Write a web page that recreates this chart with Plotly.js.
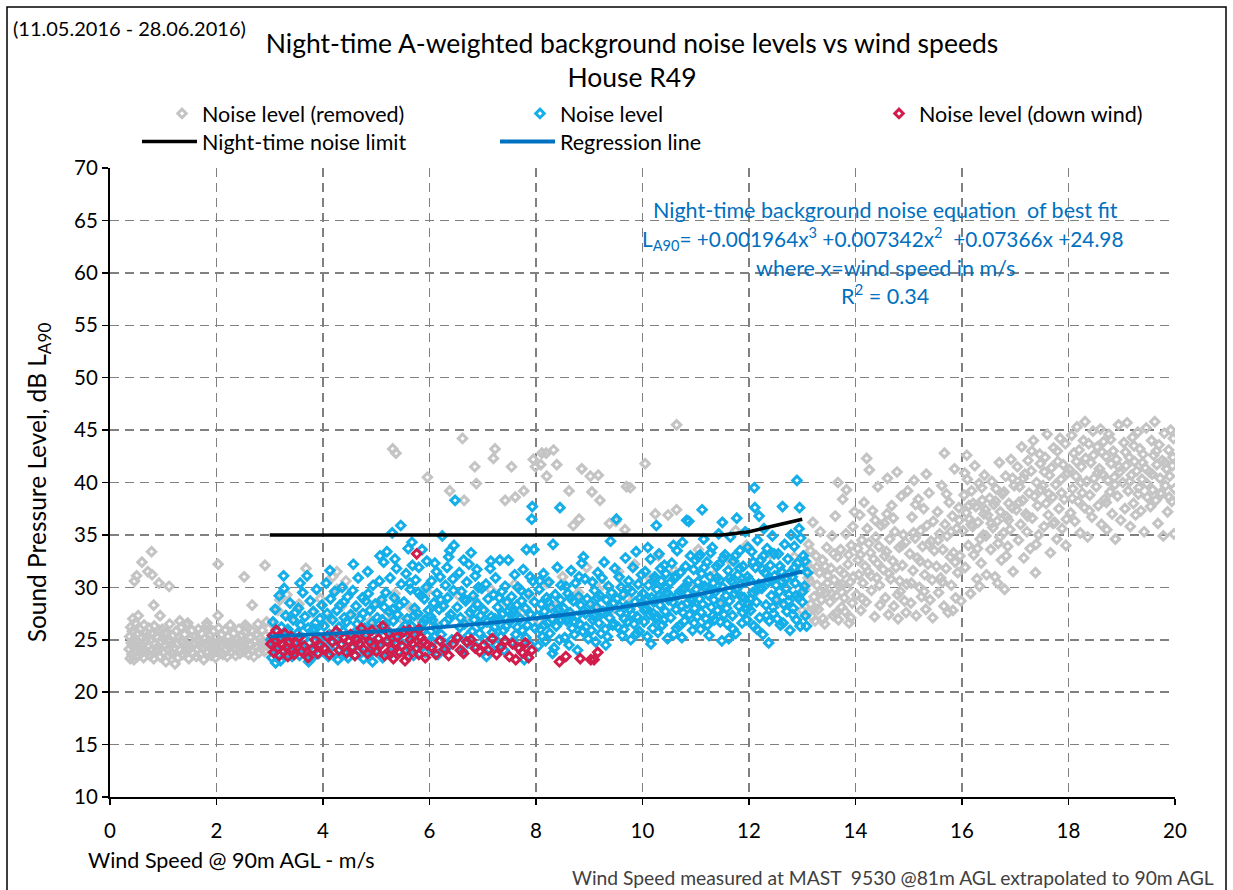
<!DOCTYPE html>
<html>
<head>
<meta charset="utf-8">
<script src="https://cdn.plot.ly/plotly-3.0.1.min.js"></script>
<style>
  html, body { margin: 0; padding: 0; background: #ffffff; }
  #chart { width: 1233px; height: 890px; }
</style>
</head>
<body>
<div id="chart"></div>
<script>
// Night-time LA90 background noise vs wind speed, House R49.
// Each point is [wind speed m/s, LA90 dB].

// Removed samples, low wind speeds (0.3 - 3 m/s)
const removedLow = [
  [0.36,24.1],[0.37,25.3],[0.38,23.2],[0.39,26.2],[0.40,24.7],[0.41,23.6],[0.42,25.8],[0.43,27.0],[0.44,24.3],[0.45,23.1],
  [0.46,25.1],[0.47,26.6],[0.48,23.9],[0.50,24.8],[0.51,23.4],[0.52,25.6],[0.53,27.3],[0.55,24.2],[0.56,26.0],[0.58,23.7],
  [0.60,25.2],[0.61,24.5],[0.63,23.3],[0.64,26.4],[0.66,24.9],[0.68,25.7],[0.69,23.8],[0.71,24.4],[0.73,26.1],[0.75,23.5],
  [0.76,25.0],[0.78,24.0],[0.80,25.5],[0.82,23.2],[0.83,26.3],[0.85,24.6],[0.87,25.3],[0.89,23.9],[0.90,24.3],[0.92,25.9],
  [0.94,23.4],[0.96,24.8],[0.98,26.0],[1.00,23.8],[1.01,25.1],[1.03,24.4],[1.05,22.9],[1.07,25.7],[1.09,24.1],[1.10,23.5],
  [1.12,26.5],[1.14,24.9],[1.16,23.7],[1.18,25.4],[1.20,24.2],[1.22,22.7],[1.24,25.8],[1.26,24.6],[1.28,23.3],[1.30,25.2],
  [1.32,24.0],[1.34,26.2],[1.36,23.6],[1.38,24.8],[1.40,25.5],[1.42,23.9],[1.44,24.4],[1.46,26.6],[1.48,23.2],[1.50,25.0],
  [1.52,24.3],[1.54,25.9],[1.56,23.7],[1.58,24.7],[1.60,25.3],[1.62,23.4],[1.64,24.1],[1.66,26.0],[1.68,24.9],[1.70,23.6],
  [1.72,25.6],[1.74,24.2],[1.76,23.1],[1.78,25.1],[1.80,24.5],[1.82,26.3],[1.84,23.8],[1.86,24.9],[1.88,25.4],[1.90,23.5],
  [1.92,24.3],[1.94,25.8],[1.96,24.0],[1.98,23.3],[2.00,25.2],[2.02,24.6],[2.04,26.1],[2.06,23.9],[2.08,24.4],[2.10,25.5],
  [2.12,23.6],[2.14,24.8],[2.16,25.9],[2.18,24.1],[2.20,23.4],[2.22,25.3],[2.24,24.7],[2.26,26.4],[2.28,23.8],[2.30,24.9],
  [2.32,25.6],[2.34,24.2],[2.36,23.5],[2.38,25.0],[2.40,24.5],[2.42,26.0],[2.44,23.7],[2.46,24.3],[2.48,25.4],[2.50,24.8],
  [2.52,23.9],[2.54,25.7],[2.56,24.1],[2.58,26.2],[2.60,23.6],[2.62,24.6],[2.64,25.2],[2.66,24.0],[2.68,25.8],[2.70,23.4],
  [2.72,24.9],[2.74,25.5],[2.76,24.3],[2.78,26.5],[2.80,23.8],[2.82,25.1],[2.84,24.7],[2.86,25.9],[2.88,24.4],[2.90,23.9],
  [2.92,25.4],[2.94,26.7],[2.96,24.6],[0.45,24.6],[0.62,24.0],[0.70,25.3],[0.88,24.2],[1.04,25.5],[1.15,24.5],[1.33,24.9],
  [1.47,24.1],[1.63,25.0],[1.85,24.4],[2.05,24.9],[2.25,24.3],[2.45,24.8],[2.65,24.5],[2.85,24.2],
  [0.78,33.4],[0.60,32.4],[0.50,31.1],[0.46,30.6],[0.71,31.5],[0.79,31.2],[0.92,30.4],[1.11,30.1],[0.82,28.3],[0.94,27.3],
  [2.03,32.2],[2.52,31.0],[2.91,32.1],[2.67,28.3],[2.03,27.3],[1.31,26.8],[1.44,26.4],[1.82,26.6],[2.54,26.4]
];

// Removed samples, 3 - 13 m/s
const removedMid = [
  [3.19,28.8],[3.32,29.3],[3.68,31.8],[4.18,31.0],[4.26,31.5],[4.26,29.8],[4.43,30.6],[5.31,43.2],[5.37,42.8],[5.96,40.5],
  [6.62,44.2],[7.23,43.2],[7.20,42.3],[6.85,41.5],[6.88,39.9],[7.54,41.5],[6.38,39.2],[6.65,38.3],[7.42,38.3],[7.61,38.6],
  [7.77,39.2],[7.95,42.2],[8.11,42.8],[8.33,43.1],[7.99,41.5],[8.39,41.7],[8.20,40.6],[8.86,41.3],[9.02,40.6],[9.17,40.7],
  [8.62,39.2],[9.05,39.1],[9.20,38.3],[9.70,39.6],[9.77,39.5],[10.05,41.8],[10.64,45.5],[8.70,35.9],[8.81,36.5],[9.38,36.1],
  [9.50,36.3],[9.67,35.5],[10.24,37.0],[10.48,36.9],[10.64,37.4],[11.75,35.4],[8.19,42.8],[8.09,41.7],
  [3.05,26.5],[3.15,27.8],[3.40,27.2],[3.55,28.4],[3.80,27.6],[3.95,28.9],[4.10,27.0],[4.35,28.2],[4.60,27.5],[4.75,29.0],
  [4.90,26.8],[5.05,28.6],[5.20,27.3],[5.35,29.4],[5.50,26.9],[5.65,28.0],[5.80,27.1],[5.95,29.6],[6.10,26.6],[6.25,28.3],
  [6.40,27.4],[6.55,29.2],[6.70,26.7],[6.85,28.8],[7.00,27.9],[7.15,29.8],[7.30,27.0],[7.45,28.5],[7.60,30.3],[7.75,27.6],
  [7.90,29.1],[8.05,26.8],[8.20,30.4],[8.35,28.1],[8.50,31.0],[8.65,27.4],[8.80,29.5],[8.95,31.9],[9.10,28.3],[9.25,30.2],
  [9.40,27.7],[9.55,31.5],[9.70,29.0],[9.85,32.2],[10.00,28.6],[10.15,30.8],[10.30,33.0],[10.45,29.3],[10.60,31.6],[10.75,28.2],
  [10.90,30.1],[11.05,33.6],[11.20,29.7],[11.35,31.2],[11.50,28.8],[11.65,32.5],[11.80,30.3],[11.95,34.0],[12.10,29.4],[12.25,31.8],
  [12.40,33.2],[12.55,28.5],[12.70,30.7],[12.85,32.9],[13.00,27.8]
];

// Removed samples, high wind speeds (13 - 20 m/s)
const removedHigh = [
  [13.05,29.8],[13.08,32.4],[13.10,27.6],[13.12,34.1],[13.14,30.6],[13.16,28.4],[13.18,31.7],[13.20,36.2],[13.22,29.1],[13.24,26.8],
  [13.26,33.0],[13.28,30.2],[13.30,27.9],[13.32,31.4],[13.34,35.3],[13.36,28.8],[13.38,32.6],[13.40,30.0],[13.42,26.5],[13.44,29.5],
  [13.46,33.8],[13.48,31.1],[13.11,30.9],[13.19,27.2],[13.27,31.9],[13.35,29.6],[13.43,32.0],[13.15,33.5],[13.23,28.0],[13.39,27.0],
  [13.47,30.4],
  [13.52,28.6],[13.54,31.8],[13.56,34.9],[13.58,27.3],[13.60,30.7],[13.62,36.8],[13.64,29.2],[13.66,32.9],[13.68,26.9],[13.70,30.1],
  [13.72,33.6],[13.74,28.1],[13.76,38.4],[13.78,31.3],[13.80,27.7],[13.82,35.1],[13.84,29.9],[13.86,32.2],[13.88,26.6],[13.90,30.5],
  [13.92,34.0],[13.94,28.5],[13.96,31.0],[13.98,37.2],[13.55,29.4],[13.63,27.5],[13.71,31.6],[13.79,29.0],[13.87,33.1],[13.95,35.8],
  [13.67,40.0],[13.83,39.3],[13.59,33.2],[13.75,30.3],[13.91,27.1],
  [14.02,29.3],[14.04,33.7],[14.06,31.2],[14.08,36.9],[14.10,27.8],[14.12,34.5],[14.14,30.4],[14.16,38.1],[14.18,32.0],[14.20,28.6],
  [14.22,35.6],[14.24,31.5],[14.26,41.2],[14.28,33.3],[14.30,29.7],[14.32,37.3],[14.34,32.7],[14.36,27.2],[14.38,34.8],[14.40,30.9],
  [14.42,39.6],[14.44,33.9],[14.46,28.3],[14.48,35.9],[14.05,32.6],[14.13,28.9],[14.21,42.3],[14.29,31.1],[14.37,36.4],[14.45,30.2],
  [14.09,33.1],[14.25,34.2],[14.41,32.3],
  [14.52,31.7],[14.54,36.1],[14.56,29.0],[14.58,33.4],[14.60,40.4],[14.62,27.4],[14.64,34.6],[14.66,30.8],[14.68,37.8],[14.70,32.5],
  [14.72,28.2],[14.74,35.3],[14.76,31.9],[14.78,41.0],[14.80,27.0],[14.82,33.8],[14.84,29.6],[14.86,38.7],[14.88,32.1],[14.90,35.0],
  [14.92,28.7],[14.94,34.3],[14.96,30.3],[14.98,39.2],[14.55,33.0],[14.63,31.3],[14.71,36.6],[14.79,29.3],[14.87,34.0],[14.95,27.6],
  [14.59,37.0],[14.83,30.6],
  [15.02,33.2],[15.04,28.5],[15.06,36.7],[15.08,31.6],[15.10,40.2],[15.12,34.7],[15.14,27.3],[15.16,32.8],[15.18,38.4],[15.20,30.0],
  [15.22,35.4],[15.24,29.1],[15.26,33.9],[15.28,37.5],[15.30,31.2],[15.32,27.9],[15.34,35.9],[15.36,32.2],[15.38,39.0],[15.40,28.8],
  [15.42,34.4],[15.44,30.7],[15.46,36.3],[15.48,33.5],[15.05,30.4],[15.13,37.9],[15.21,32.5],[15.29,29.6],[15.37,34.1],[15.45,27.1],
  [15.09,35.2],[15.33,40.8],
  [15.52,32.0],[15.54,37.2],[15.56,29.5],[15.58,35.1],[15.60,30.9],[15.62,39.7],[15.64,33.6],[15.66,28.2],[15.68,36.0],[15.70,31.8],
  [15.72,34.9],[15.74,27.6],[15.76,38.1],[15.78,32.9],[15.80,30.2],[15.82,36.8],[15.84,33.3],[15.86,41.3],[15.88,29.0],[15.90,35.6],
  [15.92,31.4],[15.94,37.6],[15.96,33.0],[15.98,28.7],[15.55,34.5],[15.63,30.5],[15.71,38.9],[15.79,35.3],[15.87,32.4],[15.95,36.4],
  [15.67,42.8],[15.83,27.8],
  [16.02,35.4],[16.04,38.8],[16.06,31.9],[16.08,37.1],[16.10,40.3],[16.12,34.0],[16.14,36.5],[16.16,29.4],[16.18,39.2],[16.20,35.8],
  [16.22,33.1],[16.24,41.6],[16.26,37.7],[16.28,30.8],[16.30,36.2],[16.32,39.9],[16.34,34.6],[16.36,32.3],[16.38,38.3],[16.40,35.0],
  [16.42,40.7],[16.44,37.4],[16.46,31.2],[16.48,36.9],[16.05,40.9],[16.13,37.8],[16.21,38.0],[16.29,33.7],[16.37,39.5],[16.45,34.9],
  [16.09,42.6],[16.33,30.1],[16.41,37.0],[16.17,36.0],
  [16.52,38.5],[16.54,33.6],[16.56,40.1],[16.58,35.7],[16.60,37.9],[16.62,31.0],[16.64,39.4],[16.66,36.3],[16.68,34.2],[16.70,41.9],
  [16.72,37.2],[16.74,32.6],[16.76,38.9],[16.78,35.2],[16.80,29.8],[16.82,40.6],[16.84,36.7],[16.86,33.9],[16.88,38.0],[16.90,35.5],
  [16.92,42.2],[16.94,37.6],[16.96,31.5],[16.98,39.7],[16.55,36.1],[16.63,38.2],[16.71,34.8],[16.79,39.1],[16.87,36.4],[16.95,40.4],
  [16.67,30.4],[16.83,33.0],
  [17.02,37.4],[17.04,41.5],[17.06,34.5],[17.08,39.6],[17.10,36.0],[17.12,43.4],[17.14,38.3],[17.16,32.8],[17.18,40.8],[17.20,37.0],
  [17.22,35.3],[17.24,42.1],[17.26,39.0],[17.28,33.7],[17.30,41.1],[17.32,36.6],[17.34,44.0],[17.36,38.7],[17.38,31.4],[17.40,40.0],
  [17.42,37.8],[17.44,35.0],[17.46,42.7],[17.48,39.3],[17.07,38.1],[17.15,40.4],[17.23,36.8],[17.31,43.0],[17.39,34.1],[17.47,41.8],
  [17.52,39.7],[17.54,35.8],[17.56,42.4],[17.58,38.0],[17.60,44.6],[17.62,36.9],[17.64,40.7],[17.66,33.3],[17.68,41.4],[17.70,38.6],
  [17.72,43.3],[17.74,36.2],[17.76,39.8],[17.78,34.6],[17.80,42.0],[17.82,37.5],[17.84,44.2],[17.86,40.3],[17.88,35.6],[17.90,41.7],
  [17.92,38.4],[17.94,43.7],[17.96,36.5],[17.98,40.9],[17.55,41.0],[17.63,38.9],[17.71,36.1],[17.79,43.0],[17.87,39.0],[17.95,34.0],
  [18.02,41.2],[18.04,37.1],[18.06,44.5],[18.08,39.4],[18.10,42.8],[18.12,36.3],[18.14,40.6],[18.16,45.3],[18.18,38.2],[18.20,43.1],
  [18.22,35.2],[18.24,41.5],[18.26,39.0],[18.28,44.0],[18.30,37.6],[18.32,42.3],[18.34,40.1],[18.36,34.8],[18.38,43.7],[18.40,38.8],
  [18.42,41.9],[18.44,36.7],[18.46,44.9],[18.48,40.4],[18.07,38.5],[18.15,42.0],[18.23,40.0],[18.31,45.8],[18.39,37.3],[18.47,42.6],
  [18.52,39.6],[18.54,43.4],[18.56,37.8],[18.58,41.3],[18.60,45.1],[18.62,36.0],[18.64,40.8],[18.66,43.9],[18.68,38.4],[18.70,42.5],
  [18.72,35.5],[18.74,40.2],[18.76,44.6],[18.78,39.1],[18.80,41.8],[18.82,37.0],[18.84,43.0],[18.86,40.5],[18.88,34.6],[18.90,42.2],
  [18.92,38.7],[18.94,45.5],[18.96,41.0],[18.98,36.4],[18.55,40.9],[18.63,42.9],[18.71,38.1],[18.79,44.1],[18.87,39.8],[18.95,41.5],
  [19.02,40.0],[19.04,43.8],[19.06,37.5],[19.08,41.6],[19.10,45.7],[19.12,39.2],[19.14,42.4],[19.16,35.8],[19.18,40.7],[19.20,44.3],
  [19.22,38.0],[19.24,42.0],[19.26,36.9],[19.28,41.1],[19.30,44.8],[19.32,39.5],[19.34,43.2],[19.36,37.3],[19.38,40.3],[19.40,42.7],
  [19.42,35.3],[19.44,41.4],[19.46,45.2],[19.48,38.6],[19.07,42.9],[19.15,40.1],[19.23,43.5],[19.31,38.9],[19.39,41.9],[19.47,39.9],
  [19.52,41.0],[19.54,37.7],[19.56,44.0],[19.58,39.3],[19.60,42.6],[19.62,45.8],[19.64,38.3],[19.66,41.7],[19.68,36.1],[19.70,43.6],
  [19.72,40.4],[19.74,38.9],[19.76,42.1],[19.78,34.9],[19.80,44.7],[19.82,39.7],[19.84,41.3],[19.86,37.2],[19.88,43.1],[19.90,40.6],
  [19.92,45.0],[19.94,38.2],[19.96,42.4],[19.98,35.1],[19.57,40.8],[19.65,43.0],[19.73,39.0],[19.81,41.9],[19.89,38.6],[19.97,44.2],
  [19.99,39.4],[19.95,41.6]
];

// Retained samples (3 - 13 m/s)
const noiseLevel = [
  [3.02,25.0],[3.04,23.3],[3.06,26.7],[3.08,24.4],[3.10,27.9],[3.12,23.9],[3.14,25.8],[3.16,24.9],[3.18,29.2],[3.20,23.0],
  [3.22,26.2],[3.24,24.6],[3.26,31.1],[3.28,25.4],[3.30,27.3],[3.32,23.6],[3.34,26.0],[3.36,24.1],[3.38,28.5],[3.40,25.2],
  [3.42,23.4],[3.44,26.9],[3.46,24.8],[3.48,27.6],[3.11,22.8],[3.27,29.9],[3.35,25.7],[3.45,23.8],
  [3.52,25.6],[3.54,28.0],[3.56,23.5],[3.58,26.4],[3.60,24.3],[3.62,29.5],[3.64,25.1],[3.66,27.2],[3.68,23.9],[3.70,31.1],
  [3.72,26.1],[3.74,24.7],[3.76,28.7],[3.78,23.2],[3.80,25.9],[3.82,27.7],[3.84,24.0],[3.86,26.6],[3.88,29.8],[3.90,25.3],
  [3.92,23.7],[3.94,27.0],[3.96,24.5],[3.98,28.3],[3.57,30.4],[3.73,22.9],[3.85,26.0],[3.95,25.0],
  [4.02,26.3],[4.04,24.2],[4.06,30.4],[4.08,27.5],[4.10,23.4],[4.12,25.5],[4.14,28.9],[4.16,24.8],[4.18,26.9],[4.20,23.8],
  [4.22,29.6],[4.24,25.2],[4.26,27.8],[4.28,23.1],[4.30,26.2],[4.32,28.3],[4.34,24.5],[4.36,30.0],[4.38,25.8],[4.40,27.1],
  [4.42,23.6],[4.44,26.7],[4.46,29.1],[4.48,24.9],[4.13,31.6],[4.27,25.0],[4.39,28.6],[4.47,23.3],
  [4.52,27.4],[4.54,24.3],[4.56,29.7],[4.58,25.6],[4.60,23.5],[4.62,28.2],[4.64,26.5],[4.66,30.9],[4.68,24.0],[4.70,27.0],
  [4.72,25.3],[4.74,29.0],[4.76,23.2],[4.78,26.1],[4.80,28.7],[4.82,24.6],[4.84,31.5],[4.86,25.9],[4.88,27.8],[4.90,23.8],
  [4.92,26.6],[4.94,30.2],[4.96,24.8],[4.98,28.4],[4.57,32.2],[4.65,25.0],[4.75,27.5],[4.85,29.4],[4.93,22.9],[4.99,26.0],
  [5.02,27.1],[5.04,24.4],[5.06,30.6],[5.08,25.9],[5.10,28.8],[5.12,23.3],[5.14,32.4],[5.16,26.4],[5.18,29.5],[5.20,33.4],
  [5.22,24.9],[5.24,27.7],[5.26,30.9],[5.28,23.7],[5.30,35.2],[5.32,26.8],[5.34,29.0],[5.36,25.2],[5.38,31.8],[5.40,27.4],
  [5.42,23.9],[5.44,28.3],[5.46,35.9],[5.48,26.0],[5.07,33.0],[5.15,28.1],[5.23,25.8],[5.31,27.9],[5.39,24.6],[5.47,30.3],
  [5.11,26.9],[5.35,32.7],
  [5.52,28.6],[5.54,25.1],[5.56,31.3],[5.58,27.0],[5.60,33.7],[5.62,24.2],[5.64,29.8],[5.66,26.3],[5.68,32.1],[5.70,23.5],
  [5.72,28.0],[5.74,30.7],[5.76,25.7],[5.78,27.5],[5.80,31.9],[5.82,24.5],[5.84,29.2],[5.86,33.6],[5.88,26.6],[5.90,28.9],
  [5.92,23.8],[5.94,30.0],[5.96,25.4],[5.98,27.8],[5.55,26.4],[5.63,30.4],[5.71,27.3],[5.79,29.5],[5.87,25.9],[5.95,32.5],
  [5.67,34.3],[5.91,26.9],
  [6.02,27.2],[6.04,30.6],[6.06,24.8],[6.08,28.5],[6.10,32.3],[6.12,26.1],[6.14,29.4],[6.16,23.6],[6.18,27.9],[6.20,31.0],
  [6.22,25.5],[6.24,34.9],[6.26,28.2],[6.28,26.6],[6.30,30.2],[6.32,24.2],[6.34,29.0],[6.36,32.9],[6.38,33.5],[6.40,27.4],
  [6.42,25.0],[6.44,30.8],[6.46,34.0],[6.48,38.3],[6.05,26.9],[6.13,31.5],[6.21,28.8],[6.29,24.6],[6.37,27.0],[6.45,29.7],
  [6.09,25.3],[6.33,31.9],
  [6.52,28.1],[6.54,25.2],[6.56,31.4],[6.58,27.1],[6.60,29.6],[6.62,23.9],[6.64,32.6],[6.66,26.5],[6.68,28.7],[6.70,30.5],
  [6.72,24.7],[6.74,32.2],[6.76,27.6],[6.78,33.3],[6.80,25.8],[6.82,29.2],[6.84,26.9],[6.86,31.1],[6.88,24.3],[6.90,28.4],
  [6.92,30.0],[6.94,25.6],[6.96,27.3],[6.98,29.9],[6.57,26.2],[6.65,28.9],[6.73,25.4],[6.81,27.9],[6.89,31.7],[6.97,26.4],
  [7.02,27.8],[7.04,25.0],[7.06,30.3],[7.08,26.7],[7.10,28.9],[7.12,24.1],[7.14,31.8],[7.16,27.2],[7.18,25.7],[7.20,29.3],
  [7.22,26.2],[7.24,30.9],[7.26,24.5],[7.28,28.1],[7.30,26.9],[7.32,32.6],[7.34,25.3],[7.36,29.6],[7.38,27.5],[7.40,24.0],
  [7.42,30.1],[7.44,26.3],[7.46,28.6],[7.48,32.6],[7.07,23.4],[7.15,32.5],[7.23,27.0],[7.31,29.0],[7.39,25.9],[7.47,27.7],
  [7.52,26.8],[7.54,29.1],[7.56,24.8],[7.58,27.6],[7.60,31.2],[7.62,25.5],[7.64,28.3],[7.66,30.0],[7.68,24.2],[7.70,27.0],
  [7.72,29.7],[7.74,25.9],[7.76,31.7],[7.78,23.1],[7.80,28.0],[7.82,33.6],[7.84,26.4],[7.86,29.4],[7.88,24.6],[7.90,27.4],
  [7.92,36.5],[7.94,30.6],[7.96,33.6],[7.98,26.1],[7.93,37.7],[7.57,27.9],[7.65,26.2],[7.73,28.7],[7.81,25.2],[7.89,31.0],
  [7.97,28.6],
  [8.02,27.3],[8.04,24.4],[8.06,29.8],[8.08,26.0],[8.10,28.4],[8.12,25.3],[8.14,31.3],[8.16,27.7],[8.18,24.9],[8.20,29.0],
  [8.22,26.6],[8.24,30.5],[8.26,25.6],[8.28,28.1],[8.30,27.0],[8.32,34.1],[8.34,24.2],[8.36,29.3],[8.38,26.3],[8.40,31.9],
  [8.42,27.9],[8.44,25.0],[8.45,37.6],[8.46,28.8],[8.48,26.9],[8.07,30.6],[8.15,26.4],[8.23,28.6],[8.31,23.7],[8.39,27.4],
  [8.47,30.2],
  [8.52,28.0],[8.54,25.2],[8.56,30.1],[8.58,26.8],[8.60,29.4],[8.62,24.5],[8.64,27.6],[8.66,31.6],[8.68,26.1],[8.70,28.7],
  [8.72,25.5],[8.74,30.4],[8.76,27.2],[8.78,24.0],[8.80,29.1],[8.82,26.5],[8.84,28.3],[8.86,32.3],[8.88,25.8],[8.89,32.9],
  [8.90,27.8],[8.92,30.8],[8.94,26.2],[8.96,28.9],[8.98,25.1],[8.57,27.0],[8.65,29.0],[8.73,26.7],[8.81,31.0],[8.93,27.5],
  [9.02,28.4],[9.04,25.9],[9.06,30.5],[9.08,27.3],[9.10,29.7],[9.12,24.8],[9.14,28.1],[9.16,31.4],[9.18,26.6],[9.20,29.2],
  [9.22,25.6],[9.24,30.9],[9.26,27.7],[9.28,32.4],[9.30,26.0],[9.32,28.8],[9.34,25.3],[9.36,30.1],[9.38,27.1],[9.40,34.4],
  [9.42,29.5],[9.44,26.4],[9.46,28.5],[9.48,31.8],[9.07,26.9],[9.15,29.0],[9.23,27.5],[9.31,24.5],[9.39,28.0],[9.47,26.5],
  [9.51,36.5],[9.52,28.9],[9.54,26.2],[9.56,31.0],[9.58,27.6],[9.60,30.0],[9.62,25.4],[9.64,29.3],[9.66,27.0],[9.68,32.8],
  [9.70,28.2],[9.72,26.7],[9.74,30.6],[9.76,27.9],[9.78,25.0],[9.80,29.6],[9.82,31.9],[9.84,26.5],[9.86,28.6],[9.88,33.4],
  [9.90,27.2],[9.92,30.3],[9.94,25.8],[9.96,29.0],[9.98,31.2],[9.57,28.2],[9.65,26.0],[9.73,29.9],[9.81,27.4],[9.89,25.6],
  [9.97,28.4],
  [10.01,29.4],[10.03,26.7],[10.05,31.5],[10.07,28.0],[10.09,25.3],[10.11,30.2],[10.13,27.4],[10.15,32.7],[10.17,29.0],[10.19,26.1],
  [10.21,28.6],[10.23,31.0],[10.25,27.0],[10.26,35.9],[10.27,29.8],[10.29,25.7],[10.31,33.2],[10.33,28.3],[10.35,30.6],[10.37,26.4],
  [10.39,29.1],[10.41,32.1],[10.43,27.7],[10.45,30.0],[10.47,25.1],[10.49,28.8],[10.04,27.8],[10.10,33.8],[10.16,24.6],[10.22,30.7],
  [10.28,27.2],[10.34,31.8],[10.40,26.9],[10.46,29.5],[10.08,28.9],[10.20,27.5],[10.32,29.2],[10.44,31.3],
  [10.51,30.4],[10.53,27.1],[10.55,32.3],[10.57,28.6],[10.59,25.5],[10.61,30.9],[10.63,27.9],[10.65,33.5],[10.67,29.3],[10.69,26.3],
  [10.71,31.4],[10.73,28.2],[10.75,34.3],[10.77,29.9],[10.79,26.8],[10.81,32.0],[10.83,36.4],[10.84,28.5],[10.86,30.6],[10.88,27.4],
  [10.90,33.0],[10.92,29.0],[10.94,25.9],[10.96,31.7],[10.98,28.0],[10.52,29.1],[10.58,34.0],[10.64,26.1],[10.70,29.6],[10.76,27.6],
  [10.82,30.2],[10.87,36.3],[10.93,28.7],[10.99,32.6],[10.62,31.1],[10.74,25.2],[10.85,29.4],[10.97,26.6],
  [11.01,29.8],[11.03,27.2],[11.05,32.9],[11.07,28.9],[11.09,26.0],[11.11,31.3],[11.12,37.4],[11.13,28.4],[11.15,34.6],[11.17,30.1],
  [11.19,27.0],[11.21,32.4],[11.23,29.3],[11.25,25.4],[11.27,31.0],[11.29,28.1],[11.31,33.8],[11.33,30.4],[11.35,26.9],[11.37,29.6],
  [11.39,32.0],[11.41,27.8],[11.43,35.1],[11.45,30.7],[11.47,28.5],[11.49,24.9],[11.04,30.5],[11.10,27.6],[11.16,31.9],[11.22,26.4],
  [11.28,33.3],[11.34,28.8],[11.40,30.9],[11.46,26.7],[11.08,33.1],[11.20,29.9],[11.32,27.3],[11.44,32.2],[11.50,36.2],
  [11.51,30.0],[11.53,27.4],[11.55,33.1],[11.57,29.2],[11.59,26.5],[11.61,31.6],[11.63,28.7],[11.65,34.8],[11.67,30.6],[11.69,27.3],
  [11.71,32.5],[11.73,29.4],[11.75,25.6],[11.77,36.6],[11.79,31.2],[11.81,28.2],[11.83,33.5],[11.85,30.3],[11.87,26.6],[11.89,32.0],
  [11.91,29.0],[11.93,35.3],[11.95,27.9],[11.97,31.0],[11.99,28.4],[11.52,32.8],[11.58,28.0],[11.64,30.9],[11.70,26.0],[11.76,29.8],
  [11.82,31.8],[11.88,27.6],[11.94,30.5],[11.98,33.8],[11.62,25.1],[11.74,33.0],[11.86,29.1],[11.96,26.9],
  [12.01,30.7],[12.03,27.8],[12.05,33.4],[12.07,29.5],[12.09,26.3],[12.10,39.5],[12.11,37.6],[12.12,31.9],[12.14,28.6],[12.16,34.5],
  [12.18,30.3],[12.20,27.1],[12.22,32.6],[12.24,29.9],[12.26,25.5],[12.28,35.6],[12.30,31.4],[12.32,28.3],[12.34,33.7],[12.36,30.5],
  [12.38,26.8],[12.40,32.1],[12.42,29.2],[12.44,34.9],[12.46,27.5],[12.48,31.1],[12.02,28.9],[12.08,32.4],[12.15,26.0],[12.21,30.0],
  [12.27,33.0],[12.33,27.3],[12.39,30.8],[12.45,28.1],[12.13,29.7],[12.25,31.7],[12.37,24.7],[12.47,33.2],[12.19,36.8],
  [12.51,30.2],[12.53,27.0],[12.55,33.2],[12.57,29.6],[12.59,26.4],[12.61,31.5],[12.63,37.7],[12.65,28.4],[12.67,34.1],[12.69,30.8],
  [12.71,27.7],[12.73,32.7],[12.75,29.3],[12.77,25.9],[12.79,35.0],[12.81,31.0],[12.83,28.0],[12.85,33.9],[12.87,30.4],[12.89,26.9],
  [12.90,40.2],[12.91,32.3],[12.93,29.0],[12.94,35.6],[12.95,37.6],[12.96,26.3],[12.98,31.8],[13.00,28.6],[13.02,33.0],[13.04,30.1],
  [13.06,27.3],[13.08,26.3],[13.10,31.4],[12.52,28.8],[12.58,32.0],[12.64,26.6],[12.70,29.9],[12.76,31.3],[12.82,27.4],[12.88,29.2],
  [12.97,34.7],[13.01,29.6],[13.05,32.5],[12.62,30.6],[12.74,28.7],[12.86,31.9]
];

// Down-wind samples
const downWind = [
  [3.02,24.6],[3.05,25.4],[3.07,23.8],[3.10,24.9],[3.12,25.9],[3.15,24.2],[3.18,23.5],[3.20,25.1],[3.23,24.5],[3.26,23.9],
  [3.28,25.6],[3.31,24.3],[3.34,23.4],[3.37,24.8],[3.40,25.3],[3.43,24.0],[3.46,23.6],[3.50,24.7],[3.55,25.2],[3.60,23.9],
  [3.65,24.4],[3.72,23.3],[3.80,24.1],[3.85,25.0],[3.90,23.7],[3.95,24.5],
  [4.02,24.2],[4.08,25.3],[4.12,23.6],[4.18,24.8],[4.25,25.8],[4.30,24.0],[4.35,24.6],[4.40,25.2],[4.44,23.8],[4.48,24.9],
  [4.52,25.5],[4.56,24.3],[4.60,23.5],[4.64,25.0],[4.68,24.6],[4.72,26.1],[4.76,24.1],[4.80,25.4],[4.84,23.7],[4.88,24.8],
  [4.92,25.9],[4.96,24.4],
  [5.00,23.9],[5.04,25.1],[5.08,24.5],[5.12,26.3],[5.16,23.5],[5.20,24.9],[5.24,25.6],[5.28,24.1],[5.32,23.2],[5.36,24.7],
  [5.40,25.3],[5.44,23.8],[5.48,24.4],[5.52,25.8],[5.56,24.0],[5.60,23.4],[5.64,25.0],[5.68,24.6],[5.72,25.5],[5.76,24.2],
  [5.80,23.6],[5.84,25.2],[5.88,24.8],[5.92,23.3],[5.96,24.5],[5.76,33.2],[5.80,26.0],[5.62,25.9],[5.54,23.0],
  [6.04,24.3],[6.12,23.6],[6.20,24.9],[6.28,24.1],[6.36,23.5],[6.44,24.6],[6.52,25.2],[6.58,24.0],[6.64,23.7],[6.70,24.8],
  [6.78,25.0],[6.86,24.2],[6.94,23.9],
  [7.02,24.5],[7.10,24.0],[7.18,25.1],[7.26,23.6],[7.34,24.3],[7.42,24.9],[7.50,23.4],[7.56,24.6],[7.62,23.1],[7.68,24.2],
  [7.74,23.8],[7.80,24.7],[7.86,23.3],[7.92,24.0],
  [8.44,22.9],[8.56,23.4],[8.83,23.2],[9.03,23.1],[9.09,23.1],[9.16,23.8]
];

// Night-time noise limit: max(35 dB, background + 5 dB)
const limitSpeed = [3, 4, 5, 6, 7, 8, 9, 10, 11, 11.5, 12, 12.5, 13];
const limitLevel = [35, 35, 35, 35, 35, 35, 35, 35, 35, 35, 35.31, 35.88, 36.49];

// Best-fit curve values at integer wind speeds
const fitSpeed = [3, 4, 5, 6, 7, 8, 9, 10, 11, 12, 13];
const fitLevel = [25.32, 25.52, 25.78, 26.11, 26.53, 27.05, 27.67, 28.42, 29.29, 30.32, 31.49];

const xTicks = [0, 2, 4, 6, 8, 10, 12, 14, 16, 18, 20];
const yTicks = [10, 15, 20, 25, 30, 35, 40, 45, 50, 55, 60, 65, 70];

const removedAll = removedLow.concat(removedMid, removedHigh);
const xs = arr => arr.map(p => p[0]);
const ys = arr => arr.map(p => p[1]);

const FONT = 'Lato, "Open Sans", sans-serif';
const markerBase = { symbol: 'diamond-open', size: 6.5, line: { width: 3 } };

const traces = [
  {
    name: 'Noise level (removed)', type: 'scatter', mode: 'markers', legend: 'legend',
    x: xs(removedAll), y: ys(removedAll),
    marker: Object.assign({}, markerBase, { color: '#c4c4c4' })
  },
  {
    name: 'Noise level', type: 'scatter', mode: 'markers', legend: 'legend2',
    x: xs(noiseLevel), y: ys(noiseLevel),
    marker: Object.assign({}, markerBase, { color: '#14aee8' })
  },
  {
    name: 'Noise level (down wind)', type: 'scatter', mode: 'markers', legend: 'legend3',
    x: xs(downWind), y: ys(downWind),
    marker: Object.assign({}, markerBase, { color: '#d21d4c' })
  },
  {
    name: 'Night-time noise limit', type: 'scatter', mode: 'lines', legend: 'legend4',
    x: limitSpeed, y: limitLevel,
    line: { color: '#000000', width: 3.5 }
  },
  {
    name: 'Regression line', type: 'scatter', mode: 'lines', legend: 'legend5',
    x: fitSpeed, y: fitLevel, line: { color: '#0070c0', width: 3.8 }
  }
];

// helpers: pixel position -> paper coordinates (plot area 110..1175 x 168..797)
const px = v => (v - 110) / 1065;
const py = v => (797 - v) / 629;

// one legend box per entry, laid out as a 3 + 2 grid above the plot
const legendBox = (left, top, itemwidth) => ({
  orientation: 'v', x: px(left), xanchor: 'left', y: py(top), yanchor: 'top',
  itemwidth: itemwidth, font: { family: FONT, size: 21.5, color: '#000000' },
  bgcolor: 'rgba(0,0,0,0)', borderwidth: 0
});

const eqColor = '#0070c0';
const eqFont = { family: FONT, size: 21.5, color: eqColor };
const layout = {
  width: 1233, height: 890,
  margin: { l: 110, r: 58, t: 168, b: 93, pad: 0 },
  paper_bgcolor: '#ffffff', plot_bgcolor: '#ffffff',
  font: { family: FONT, size: 20, color: '#000000' },
  title: {
    text: 'Night-time A-weighted background noise levels vs wind speeds<br>House R49',
    x: 632 / 1233, xanchor: 'center', xref: 'container',
    y: 1 - 53 / 890, yanchor: 'middle', yref: 'container',
    font: { family: FONT, size: 26.5, color: '#000000' }
  },
  showlegend: true,
  legend: legendBox(162, 93, 30),
  legend2: legendBox(520, 93, 30),
  legend3: legendBox(879, 93, 30),
  legend4: legendBox(137, 121, 55),
  legend5: legendBox(495, 121, 55),
  xaxis: {
    range: [0, 20], tickvals: xTicks, ticktext: xTicks.map(String),
    showgrid: true, gridcolor: '#808080', gridwidth: 1.5, griddash: '9px,6px',
    showline: true, linecolor: '#000000', linewidth: 2, mirror: false,
    ticks: 'outside', ticklen: 6, tickwidth: 1.5, tickcolor: '#000000', ticklabelstandoff: 8,
    zeroline: false, tickfont: { family: FONT, size: 20.5, color: '#000000' }
  },
  yaxis: {
    range: [10, 70], tickvals: yTicks, ticktext: yTicks.map(String),
    showgrid: true, gridcolor: '#808080', gridwidth: 1.5, griddash: '9px,6px',
    showline: true, linecolor: '#000000', linewidth: 2, mirror: false,
    ticks: 'outside', ticklen: 6, tickwidth: 1.5, tickcolor: '#000000',
    zeroline: false, tickfont: { family: FONT, size: 20.5, color: '#000000' },
    title: { text: 'Sound Pressure Level, dB L<sub>A90</sub>', standoff: 21,
             font: { family: FONT, size: 24.5, color: '#000000' } }
  },
  annotations: [
    { xref: 'paper', yref: 'paper', x: px(11), y: py(28), xanchor: 'left', yanchor: 'middle',
      text: '(11.05.2016 - 28.06.2016)', showarrow: false,
      font: { family: FONT, size: 20, color: '#000000' } },
    { xref: 'paper', yref: 'paper', x: px(86), y: py(860), xanchor: 'left', yanchor: 'middle',
      text: 'Wind Speed @ 90m AGL - m/s', showarrow: false,
      font: { family: FONT, size: 21.5, color: '#000000' } },
    { xref: 'paper', yref: 'paper', x: px(1216), y: py(877), xanchor: 'right', yanchor: 'middle',
      text: 'Wind Speed measured at MAST  9530 @81m AGL extrapolated to 90m AGL', showarrow: false,
      font: { family: FONT, size: 19.3, color: '#404040' } },
    { xref: 'paper', yref: 'paper', x: px(885), y: py(210), xanchor: 'center', yanchor: 'middle',
      text: 'Night-time background noise equation  of best fit', showarrow: false, font: eqFont },
    { xref: 'paper', yref: 'paper', x: px(882), y: py(239), xanchor: 'center', yanchor: 'middle',
      text: 'L<sub>A90</sub>= +0.001964x<sup>3</sup> +0.007342x<sup>2</sup>  +0.07366x +24.98', showarrow: false,
      font: { family: FONT, size: 20.8, color: eqColor } },
    { xref: 'paper', yref: 'paper', x: px(885), y: py(268), xanchor: 'center', yanchor: 'middle',
      text: 'where x=wind speed in m/s', showarrow: false, font: eqFont },
    { xref: 'paper', yref: 'paper', x: px(885), y: py(294), xanchor: 'center', yanchor: 'middle',
      text: 'R<sup>2</sup> = 0.34', showarrow: false, font: eqFont }
  ],
  shapes: [
    { type: 'rect', xref: 'paper', yref: 'paper', x0: px(7), x1: px(1226), y0: py(905), y1: py(7),
      line: { color: '#000000', width: 1.5 }, fillcolor: 'rgba(0,0,0,0)', layer: 'above' }
  ]
};

Plotly.newPlot('chart', traces, layout, { displayModeBar: false, staticPlot: true });
</script>
</body>
</html>
